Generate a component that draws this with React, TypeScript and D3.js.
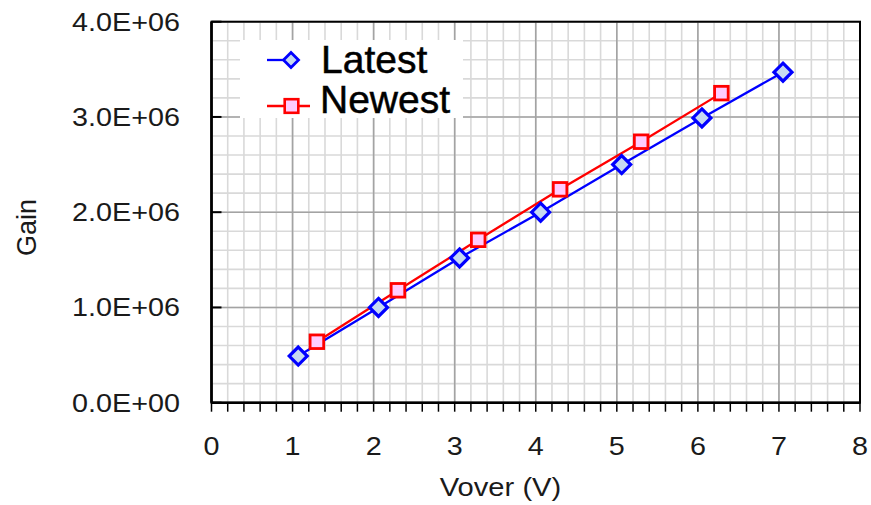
import React from "react";
import * as d3 from "d3";

const latestX = [1.07, 2.06, 3.06, 4.06, 5.06, 6.05, 7.05];
const latestY = [0.49e6, 1.0e6, 1.52e6, 2.0e6, 2.5e6, 2.99e6, 3.47e6];
const newestX = [1.3, 2.3, 3.29, 4.3, 5.3, 6.29];
const newestY = [0.64e6, 1.18e6, 1.71e6, 2.24e6, 2.74e6, 3.25e6];
const xTicks = [0, 1, 2, 3, 4, 5, 6, 7, 8];
const yTicks = [0, 1e6, 2e6, 3e6, 4e6];
const yTickLabels = ["0.0E+00", "1.0E+06", "2.0E+06", "3.0E+06", "4.0E+06"];
const seriesNames = ["Latest", "Newest"];

const FONT = "'Liberation Sans', Arial, sans-serif";

export default function App() {
  const x = d3.scaleLinear().domain([0, 8]).range([211.5, 860]);
  const y = d3.scaleLinear().domain([0, 4e6]).range([402.7, 21.7]);
  const minorX = d3.range(0, 8.0001, 0.2);
  const minorY = d3.range(0, 4e6 + 1, 2e5);

  const latest = latestX.map((v, i) => [v, latestY[i]] as [number, number]);
  const newest = newestX.map((v, i) => [v, newestY[i]] as [number, number]);
  const line = d3
    .line<[number, number]>()
    .x((d) => x(d[0]))
    .y((d) => y(d[1]));

  const [x0, x1] = x.range();
  const [y0, y1] = y.range();

  const diamond = (cx: number, cy: number, r: number) =>
    `M${cx},${cy - r}L${cx + r},${cy}L${cx},${cy + r}L${cx - r},${cy}Z`;

  return (
    <svg
      width={871}
      height={505}
      style={{ position: "absolute", left: 0, top: 0, background: "#fff" }}
      fontFamily={FONT}
    >
      {/* minor grid */}
      {minorX.map((v, i) => (
        <line key={"mx" + i} x1={x(v)} x2={x(v)} y1={y1} y2={y0} stroke="#d9d9d9" strokeWidth={1.6} />
      ))}
      {minorY.map((v, i) => (
        <line key={"my" + i} x1={x0} x2={x1} y1={y(v)} y2={y(v)} stroke="#d9d9d9" strokeWidth={1.6} />
      ))}
      {/* major grid */}
      {xTicks.map((v) => (
        <line key={"gx" + v} x1={x(v)} x2={x(v)} y1={y1} y2={y0} stroke="#a3a3a3" strokeWidth={1.6} />
      ))}
      {yTicks.map((v) => (
        <line key={"gy" + v} x1={x0} x2={x1} y1={y(v)} y2={y(v)} stroke="#a3a3a3" strokeWidth={1.6} />
      ))}

      {/* legend box */}
      <rect x={240} y={40} width={223} height={78} fill="#fff" />

      {/* frame */}
      <rect x={x0} y={y1} width={x1 - x0} height={y0 - y1} fill="none" stroke="#000" strokeWidth={2} />
      <line x1={x0} x2={x0} y1={y1} y2={y0} stroke="#000" strokeWidth={2.6} />
      <line x1={x0} x2={x1} y1={y0} y2={y0} stroke="#000" strokeWidth={2.6} />

      {/* y ticks (inward, major) */}
      {yTicks.map((v) => (
        <line key={"ty" + v} x1={x0} x2={x0 + 10} y1={y(v)} y2={y(v)} stroke="#000" strokeWidth={2} />
      ))}
      {/* x ticks (outward, minor) */}
      {minorX.map((v, i) => (
        <line key={"tx" + i} x1={x(v)} x2={x(v)} y1={y0} y2={y0 + 9} stroke="#000" strokeWidth={1.5} />
      ))}

      {/* y tick labels */}
      {yTicks.map((v, i) => (
        <g key={"ly" + v} transform={`translate(180,${y(v) + 9}) scale(1.15,1)`}>
          <text textAnchor="end" fontSize={25} fill="#1a1a1a">
            {yTickLabels[i]}
          </text>
        </g>
      ))}
      {/* x tick labels */}
      {xTicks.map((v) => (
        <g key={"lx" + v} transform={`translate(${x(v)},455) scale(1.15,1)`}>
          <text textAnchor="middle" fontSize={25} fill="#1a1a1a">
            {v}
          </text>
        </g>
      ))}

      {/* axis titles */}
      <g transform="translate(500.5,496) scale(1.1,1)">
        <text textAnchor="middle" fontSize={26.5} fill="#1a1a1a">
          Vover (V)
        </text>
      </g>
      <text
        transform="translate(36,227.5) rotate(-90)"
        textAnchor="middle"
        fontSize={27}
        fill="#1a1a1a"
      >
        Gain
      </text>

      {/* series lines */}
      <path d={line(latest) || ""} fill="none" stroke="#0000ff" strokeWidth={2.3} />
      <path d={line(newest) || ""} fill="none" stroke="#ff0000" strokeWidth={2.3} />

      {/* markers */}
      {latest.map((d, i) => (
        <path key={"dl" + i} d={diamond(x(d[0]), y(d[1]), 9)} fill="#c6d9f1" stroke="#0000ff" strokeWidth={3.2} />
      ))}
      {newest.map((d, i) => (
        <rect
          key={"sn" + i}
          x={x(d[0]) - 6.8}
          y={y(d[1]) - 6.8}
          width={13.6}
          height={13.6}
          fill="#ffccff"
          stroke="#ff0000"
          strokeWidth={2.8}
        />
      ))}

      {/* legend */}
      <line x1={267} x2={284} y1={60} y2={60} stroke="#0000ff" strokeWidth={2.3} />
      <path d={diamond(291, 60, 7.5)} fill="#c6d9f1" stroke="#0000ff" strokeWidth={2.8} />
      <text x={321} y={73} fontSize={39} fill="#000" stroke="#000" strokeWidth={0.5}>
        {seriesNames[0]}
      </text>
      <line x1={267} x2={310} y1={106} y2={106} stroke="#ff0000" strokeWidth={2.3} />
      <rect x={284.7} y={99.2} width={13.6} height={13.6} fill="#ffccff" stroke="#ff0000" strokeWidth={2.6} />
      <text x={320} y={113} fontSize={39} fill="#000" stroke="#000" strokeWidth={0.5}>
        {seriesNames[1]}
      </text>
    </svg>
  );
}
